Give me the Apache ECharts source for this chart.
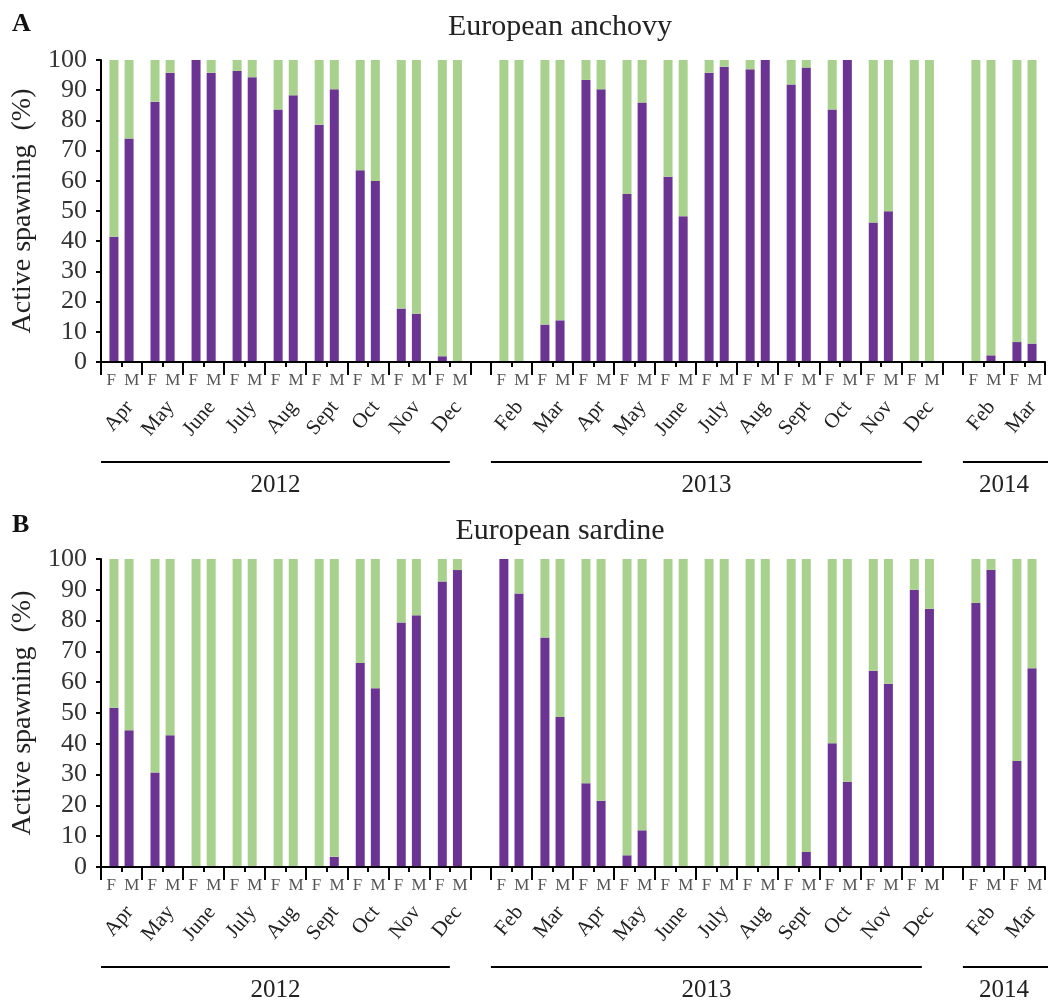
<!DOCTYPE html>
<html>
<head>
<meta charset="utf-8">
<script src="https://cdn.jsdelivr.net/npm/echarts@6/dist/echarts.min.js"></script>
<style>
html, body { margin: 0; padding: 0; background: #fff; }
#chart { width: 1048px; height: 1001px; }
</style>
</head>
<body>
<div id="chart"></div>
<script>
// Sampled months in each year (no samples in January)
const months2012 = ['Apr', 'May', 'June', 'July', 'Aug', 'Sept', 'Oct', 'Nov', 'Dec'];
const months2013 = ['Feb', 'Mar', 'Apr', 'May', 'June', 'July', 'Aug', 'Sept', 'Oct', 'Nov', 'Dec'];
const months2014 = ['Feb', 'Mar'];
const years = ['2012', '2013', '2014'];
const sexLabels = ['F', 'M'];

// Actively spawning individuals (%) per sampled month, in the month order above
const anchovyFemale = [41.5, 86.2, 100, 96.4, 83.6, 78.6, 63.5, 17.7, 1.9,
  0, 12.4, 93.4, 55.6, 61.3, 95.8, 96.9, 91.9, 83.6, 46.2, 0,
  0, 6.6];
const anchovyMale = [74.0, 95.8, 95.8, 94.3, 88.3, 90.3, 59.9, 16.0, 0,
  0, 13.8, 90.3, 85.9, 48.3, 97.8, 100, 97.5, 100, 49.9, 0,
  2.2, 6.1];
const sardineFemale = [51.7, 30.7, 0, 0, 0, 0, 66.2, 79.4, 92.7,
  100, 74.5, 27.2, 3.8, 0, 0, 0, 0, 40.2, 63.7, 90.0,
  85.7, 34.4];
const sardineMale = [44.4, 42.8, 0, 0, 0, 3.3, 58.0, 81.7, 96.4,
  88.8, 48.7, 21.5, 11.9, 0, 0, 0, 4.9, 27.7, 59.5, 83.8,
  96.5, 64.5];

const panelTitles = ['European anchovy', 'European sardine'];
const panelLetters = ['A', 'B'];
const yAxisTitle = 'Active spawning  (%)';

const SERIF = '"Liberation Serif", "DejaVu Serif", serif';
const PURPLE = '#6b3493';
const GREEN = '#a9d18e';

// Bar slots: one per sex and month, plus one empty slot between years.
// Boundaries (slots + 1) carry the month names at the middle of each F/M pair.
const yearMonths = [months2012, months2013, months2014];
const slotLabels = [];
const boundaryNames = [];
const longTicks = new Set();
const femaleSlot = [];
const maleSlot = [];
const yearSpans = [];
let cursor = 0;
yearMonths.forEach((ms, g) => {
  if (g > 0) { slotLabels.push(''); cursor += 1; }
  const start = cursor;
  longTicks.add(cursor);
  ms.forEach(m => {
    femaleSlot.push(cursor);
    maleSlot.push(cursor + 1);
    slotLabels.push(sexLabels[0], sexLabels[1]);
    boundaryNames[cursor + 1] = m;
    cursor += 2;
    longTicks.add(cursor);
  });
  yearSpans.push({ year: years[g], from: start, to: cursor - 1, end: cursor, last: g === yearMonths.length - 1 });
});
const nSlots = cursor;
const boundaryData = Array.from({ length: nSlots + 1 }, (_, i) => boundaryNames[i] || '');

function place(values, slots) {
  const out = new Array(nSlots).fill('-');
  values.forEach((v, i) => { out[slots[i]] = v; });
  return out;
}
function remainder(arr) {
  return arr.map(v => (v === '-' ? '-' : Math.round((100 - v) * 10) / 10));
}

const panels = [
  { female: anchovyFemale, male: anchovyMale, top: 60, height: 302, titleY: 27, letterY: 24 },
  { female: sardineFemale, male: sardineMale, top: 559, height: 308, titleY: 531, letterY: 525 }
];

const grids = [], xAxes = [], yAxes = [], series = [];
panels.forEach((p, k) => {
  grids.push({ left: 101, width: 944, top: p.top, height: p.height, outerBoundsMode: 'none', containLabel: false });
  // Bar axis: F / M labels with short ticks between every slot
  xAxes.push({
    type: 'category', gridIndex: k, position: 'bottom', data: slotLabels, boundaryGap: true,
    axisLine: { show: true, lineStyle: { color: '#000', width: 2 } },
    axisTick: { show: true, interval: 0, length: 5, lineStyle: { color: '#000', width: 2 } },
    axisLabel: { interval: 0, margin: 10, fontFamily: SERIF, fontSize: 17, color: '#555' },
    splitLine: { show: false }, z: 5
  });
  // Month axis on the slot boundaries: long ticks between months, rotated month names
  xAxes.push({
    type: 'category', gridIndex: k, position: 'bottom', data: boundaryData, boundaryGap: false,
    axisLine: { show: false },
    axisTick: { show: true, interval: (i) => longTicks.has(i), length: 13, lineStyle: { color: '#000', width: 2 } },
    axisLabel: { interval: 0, rotate: 50, margin: 35, verticalAlign: 'top', fontFamily: SERIF, fontSize: 21, color: '#222' },
    splitLine: { show: false }, z: 5
  });
  yAxes.push({
    type: 'value', gridIndex: k, min: 0, max: 100, interval: 10,
    name: yAxisTitle, nameLocation: 'middle', nameGap: 60, nameRotate: 90,
    nameTextStyle: { fontFamily: SERIF, fontSize: 28, color: '#222' },
    axisLine: { show: true, lineStyle: { color: '#000', width: 2 } },
    axisTick: { show: true, length: 5, lineStyle: { color: '#000', width: 2 } },
    axisLabel: { margin: 14, fontFamily: SERIF, fontSize: 26, color: '#333' },
    splitLine: { show: false }
  });
  const fData = place(p.female, femaleSlot);
  const mData = place(p.male, maleSlot);
  const common = { type: 'bar', xAxisIndex: 2 * k, yAxisIndex: k, barWidth: 9, barGap: '-40%', silent: true };
  // Male stack declared first so each bar sits toward the middle of its F/M pair
  series.push(Object.assign({ name: 'Male spawning', stack: 'm' + k, data: mData, itemStyle: { color: PURPLE } }, common));
  series.push(Object.assign({ name: 'Male other', stack: 'm' + k, data: remainder(mData), itemStyle: { color: GREEN } }, common));
  series.push(Object.assign({ name: 'Female spawning', stack: 'f' + k, data: fData, itemStyle: { color: PURPLE } }, common));
  series.push(Object.assign({ name: 'Female other', stack: 'f' + k, data: remainder(fData), itemStyle: { color: GREEN } }, common));
});

const chart = echarts.init(document.getElementById('chart'), null, { renderer: 'canvas' });
chart.setOption({
  animation: false,
  backgroundColor: '#fff',
  grid: grids, xAxis: xAxes, yAxis: yAxes, series: series
});

function boundaryX(k, i) {
  const pt = chart.convertToPixel({ xAxisIndex: 2 * k + 1 }, i);
  return Array.isArray(pt) ? pt[0] : pt;
}

// Panel letters, titles and year brackets under the month names
const graphics = [];
panels.forEach((p, k) => {
  const bottom = p.top + p.height;
  graphics.push({
    type: 'text', x: 12, y: p.letterY,
    style: { text: panelLetters[k], font: 'bold 26px ' + SERIF, fill: '#111', verticalAlign: 'middle' }
  });
  graphics.push({
    type: 'text', x: 560, y: p.titleY,
    style: { text: panelTitles[k], font: '30px ' + SERIF, fill: '#222', align: 'center', verticalAlign: 'middle' }
  });
  yearSpans.forEach(s => {
    const xa = boundaryX(k, s.from);
    const xb = s.last ? 1048 : boundaryX(k, s.to);
    const xc = s.last ? (xa + boundaryX(k, s.end)) / 2 : (xa + xb) / 2;
    graphics.push({
      type: 'line', shape: { x1: xa, y1: bottom + 100, x2: xb, y2: bottom + 100 },
      style: { stroke: '#000', lineWidth: 2 }
    });
    graphics.push({
      type: 'text', x: xc, y: bottom + 123,
      style: { text: s.year, font: '25px ' + SERIF, fill: '#222', align: 'center', verticalAlign: 'middle' }
    });
  });
});
chart.setOption({ graphic: graphics });
</script>
</body>
</html>
